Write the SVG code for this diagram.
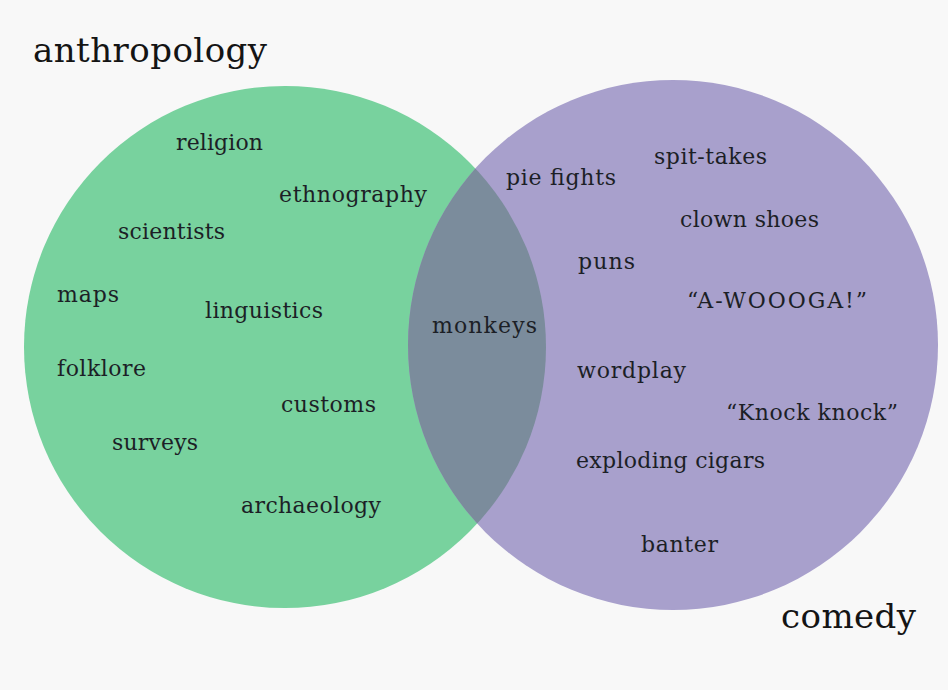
<svg xmlns="http://www.w3.org/2000/svg" width="948" height="690" viewBox="0 0 948 690">
  <style>
    .lbl { font-family: "DejaVu Serif", "Liberation Serif", serif; font-size: 22px; fill: #1c1f26; }
    .title { font-family: "DejaVu Serif", "Liberation Serif", serif; font-size: 34px; fill: #141414; }
  </style>
  <defs>
    <clipPath id="clipRight">
      <circle cx="673" cy="345" r="265"/>
    </clipPath>
  </defs>
  <rect x="0" y="0" width="948" height="690" fill="#f8f8f8"/>
  <g id="circle-anthropology">
    <circle cx="285" cy="347" r="261" fill="#78d29e"/>
  </g>
  <g id="circle-comedy">
    <circle cx="673" cy="345" r="265" fill="#a8a0cc"/>
  </g>
  <g id="overlap">
    <circle cx="285" cy="347" r="261" fill="#7b8c9c" clip-path="url(#clipRight)"/>
  </g>
  <g id="titles">
    <text class="title" x="33" y="62" textLength="234">anthropology</text>
    <text class="title" x="781" y="628" textLength="135">comedy</text>
  </g>
  <g id="anthropology-items">
    <text class="lbl" x="176" y="150" textLength="87">religion</text>
    <text class="lbl" x="279" y="202" textLength="148">ethnography</text>
    <text class="lbl" x="118" y="239" textLength="107">scientists</text>
    <text class="lbl" x="57" y="302" textLength="62">maps</text>
    <text class="lbl" x="205" y="318" textLength="118">linguistics</text>
    <text class="lbl" x="57" y="376" textLength="89">folklore</text>
    <text class="lbl" x="281" y="412" textLength="95">customs</text>
    <text class="lbl" x="112" y="450" textLength="86">surveys</text>
    <text class="lbl" x="241" y="513" textLength="140">archaeology</text>
  </g>
  <g id="both-items">
    <text class="lbl" x="432" y="333" textLength="105">monkeys</text>
  </g>
  <g id="comedy-items">
    <text class="lbl" x="506" y="185" textLength="110">pie fights</text>
    <text class="lbl" x="654" y="164" textLength="113">spit-takes</text>
    <text class="lbl" x="680" y="227" textLength="139">clown shoes</text>
    <text class="lbl" x="578" y="269" textLength="57">puns</text>
    <text class="lbl" x="687" y="308" textLength="180">“A-WOOOGA!”</text>
    <text class="lbl" x="577" y="378" textLength="109">wordplay</text>
    <text class="lbl" x="726" y="420" textLength="172">“Knock knock”</text>
    <text class="lbl" x="576" y="468" textLength="189">exploding cigars</text>
    <text class="lbl" x="641" y="552" textLength="77">banter</text>
  </g>
  <g id="connectors"></g>
</svg>
